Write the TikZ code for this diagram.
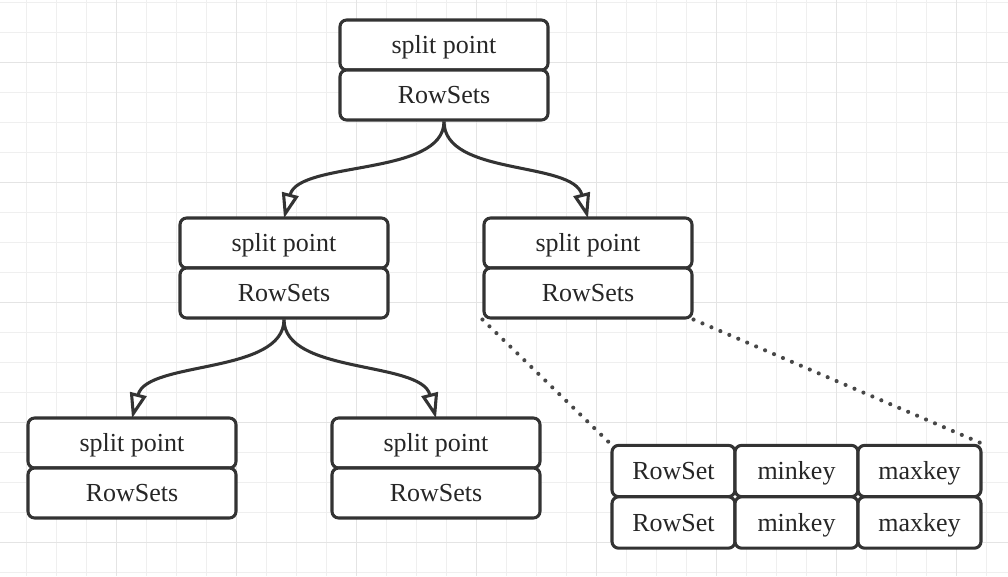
\documentclass[tikz,border=0pt]{standalone}
\usepackage{fontspec}
\setmainfont{Liberation Serif}
\usetikzlibrary{arrows.meta}
\definecolor{ink}{HTML}{333333}
\definecolor{gridminor}{HTML}{EFEFEF}
\definecolor{gridmajor}{HTML}{E4E4E4}
\tikzset{
  cell/.style={draw=ink, line width=2.3pt, rounded corners=5pt, fill=white,
    minimum width=156pt, minimum height=37.5pt, inner sep=0pt,
    text height=15.5pt, text depth=2.5pt,
    font=\fontsize{19.5}{22}\selectfont, text=black!85},
  tcell/.style={cell, minimum width=92.25pt, minimum height=38.5pt},
  curvearrow/.style={draw=ink, line width=2.3pt,
    -{Triangle[open, length=19pt, width=12.5pt, line width=2.3pt]}},
  dotline/.style={draw=ink!90, line width=3.1pt, line cap=round, dash pattern=on 0pt off 7.3pt}
}
\begin{document}
\begin{tikzpicture}[x=0.75pt,y=-0.75pt]
\useasboundingbox (0,0) rectangle (1008,576);
\fill[white] (0,0) rectangle (1008,576);
% grid
\foreach \gx in {0,...,33} {\draw[gridminor, line width=0.8pt] ({26.7+30*\gx},0) -- ({26.7+30*\gx},576);}
\foreach \gy in {0,...,19} {\draw[gridminor, line width=0.8pt] (0,{2.3+30*\gy}) -- (1008,{2.3+30*\gy});}
\foreach \gx in {-1,...,7} {\draw[gridmajor, line width=1pt] ({116.7+120*\gx},0) -- ({116.7+120*\gx},576);}
\foreach \gy in {0,...,4} {\draw[gridmajor, line width=1pt] (0,{62.3+120*\gy}) -- (1008,{62.3+120*\gy});}

% top
\node[cell] (ta) at (444,45) {split point};
\node[cell] (tb) at (444,95) {RowSets};
% middle left
\node[cell] (la) at (284,243) {split point};
\node[cell] (lb) at (284,293) {RowSets};
% middle right
\node[cell] (ra) at (588,243) {split point};
\node[cell] (rb) at (588,293) {RowSets};
% bottom left
\node[cell] (lla) at (132,443) {split point};
\node[cell] (llb) at (132,493) {RowSets};
% bottom middle
\node[cell] (lra) at (436,443) {split point};
\node[cell] (lrb) at (436,493) {RowSets};

% table
\node[tcell] (c11) at (673.5,471) {RowSet};
\node[tcell] (c12) at (796.5,471) {minkey};
\node[tcell] (c13) at (919.5,471) {maxkey};
\node[tcell] (c21) at (673.5,522.5) {RowSet};
\node[tcell] (c22) at (796.5,522.5) {minkey};
\node[tcell] (c23) at (919.5,522.5) {maxkey};

% curved arrows
\draw[curvearrow] (tb.south) .. controls +(0,55) and +(15,-58) .. ([yshift=-1.5pt]la.north);
\draw[curvearrow] (tb.south) .. controls +(0,55) and +(-15,-58) .. ([yshift=-1.5pt]ra.north);
\draw[curvearrow] (lb.south) .. controls +(0,55) and +(15,-58) .. ([yshift=-1.5pt]lla.north);
\draw[curvearrow] (lb.south) .. controls +(0,55) and +(-15,-58) .. ([yshift=-1.5pt]lra.north);

% dotted zoom lines
\draw[dotline] (rb.south west) -- (c11.north west);
\draw[dotline] (rb.south east) -- (c13.north east);
\end{tikzpicture}
\end{document}
